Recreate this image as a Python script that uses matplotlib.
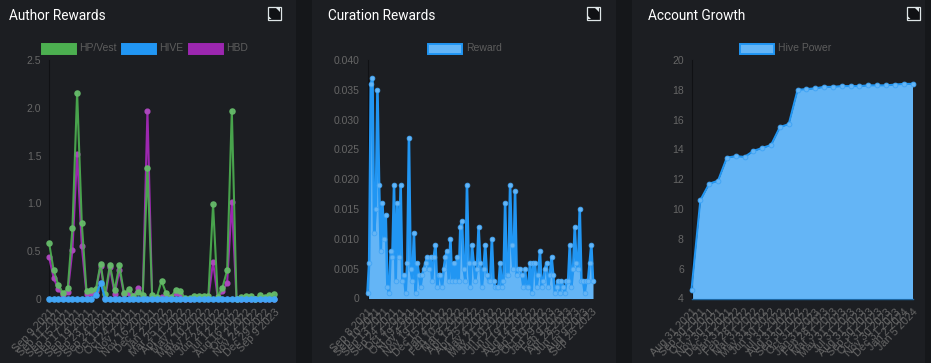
import matplotlib
matplotlib.use("Agg")
import matplotlib.pyplot as plt
from matplotlib.patches import Rectangle, Polygon

W, H = 931, 363
plt.rcParams['font.family'] = ['Liberation Sans', 'DejaVu Sans']

# ---------- data ----------
author_titles = ["Author Rewards", "Curation Rewards", "Account Growth"]

hp_vest = [0.59, 0.30, 0.145, 0.06, 0.11, 0.74, 2.16, 0.79, 0.08, 0.095, 0.10, 0.37, 0.05,
           0.36, 0.09, 0.355, 0.06, 0.10, 0.03, 0.07, 0.04, 1.37, 0.04, 0.02, 0.19, 0.06,
           0.02, 0.09, 0.08, 0.01, 0.01, 0.03, 0.035, 0.035, 0.03, 0.99, 0.02, 0.12,
           0.30, 1.97, 0.0, 0.02, 0.03, 0.035, 0.0, 0.04, 0.025, 0.04, 0.05]
hive = [0, 0, 0, 0, 0, 0, 0, 0, 0, 0, 0.04, 0.17, 0, 0, 0, 0, 0, 0, 0, 0, 0, 0, 0, 0, 0,
        0, 0, 0, 0, 0, 0, 0, 0, 0, 0, 0, 0, 0, 0, 0, 0, 0, 0, 0, 0, 0, 0, 0, 0]
hbd = [0.44, 0.22, 0.10, 0.04, 0.07, 0.51, 1.52, 0.55, 0.05, 0.06, 0.08, 0.35, 0.01, 0.33,
       0.05, 0.30, 0.05, 0.06, 0.03, 0.11, 0.02, 1.97, 0.02, 0.01, 0.02, 0.02, 0.01, 0.06,
       0.05, 0.0, 0.0, 0.01, 0.01, 0.01, 0.01, 0.39, 0.01, 0.08, 0.17, 1.01, 0.0,
       0.0, 0.0, 0.0, 0.0, 0.0, 0.0, 0.0, 0.0]
author_labels = ["Sep 9 2021", "Sep 11 2021", "Sep 15 2021", "Sep 17 2021", "Sep 19 2021",
                 "Sep 23 2021", "Sep 24 2021", "Oct 11 2021", "Oct 24 2021", "Nov 2 2021",
                 "Nov 16 2021", "Dec 2 2021", "Jan 2 2022", "Mar 25 2022", "Apr 11 2022",
                 "May 2 2022", "May 10 2022", "May 27 2022", "Jun 24 2022", "Jul 12 2022",
                 "Aug 16 2022", "Oct 2 2022", "Nov 24 2022", "Dec 29 2022", "Sep 9 2023"]

reward = [0.001, 0.006, 0.036, 0.037, 0.011, 0.015, 0.035, 0.019, 0.008, 0.016, 0.010, 0.014,
          0.002, 0.001, 0.008, 0.007, 0.019, 0.003, 0.016, 0.007, 0.019, 0.003, 0.004, 0.001,
          0.006, 0.027, 0.005, 0.003, 0.011, 0.001, 0.006, 0.004, 0.002, 0.004, 0.005, 0.006,
          0.007, 0.005, 0.007, 0.003, 0.007, 0.009, 0.002, 0.004, 0.004, 0.002, 0.005, 0.007,
          0.008, 0.003, 0.010, 0.003, 0.006, 0.003, 0.007, 0.003, 0.012, 0.013, 0.005, 0.003,
          0.019, 0.006, 0.002, 0.009, 0.006, 0.003, 0.005, 0.012, 0.006, 0.002, 0.005, 0.009,
          0.004, 0.003, 0.003, 0.010, 0.003, 0.002, 0.002, 0.002, 0.006, 0.002, 0.003, 0.016,
          0.004, 0.004, 0.019, 0.009, 0.005, 0.018, 0.004, 0.005, 0.005, 0.004, 0.002, 0.005,
          0.002, 0.002, 0.006, 0.001, 0.006, 0.006, 0.002, 0.004, 0.008, 0.002, 0.003, 0.005,
          0.006, 0.002, 0.004, 0.007, 0.004, 0.001, 0.002, 0.003, 0.001, 0.003, 0.002, 0.001,
          0.003, 0.003, 0.009, 0.002, 0.005, 0.012, 0.006, 0.005, 0.015, 0.003, 0.003, 0.001,
          0.003, 0.003, 0.006, 0.009, 0.003]
curation_labels = ["Sep 8 2021", "Sep 10 2021", "Sep 13 2021", "Sep 24 2021", "Oct 4 2021",
                   "Oct 19 2021", "Nov 4 2021", "Nov 19 2021", "Dec 15 2021", "Jan 4 2022",
                   "Feb 10 2022", "Mar 8 2022", "Apr 13 2022", "Apr 25 2022", "May 4 2022",
                   "May 21 2022", "Jun 10 2022", "Jun 27 2022", "Jul 19 2022", "Aug 14 2022",
                   "Sep 18 2022", "Oct 10 2022", "Jan 29 2023", "Feb 9 2023", "Apr 28 2023",
                   "Jun 25 2023", "Aug 9 2023", "Sep 25 2023"]

hive_power = [4.6, 10.6, 11.7, 11.9, 13.45, 13.55, 13.5, 13.9, 14.1, 14.3, 15.5, 15.7, 18.0,
              18.05, 18.1, 18.2, 18.2, 18.25, 18.25, 18.25, 18.3, 18.3, 18.3, 18.35, 18.4, 18.4]
growth_labels = ["Aug 31 2021", "Sep 30 2021", "Oct 31 2021", "Nov 30 2021", "Dec 31 2021",
                 "Jan 31 2022", "Feb 28 2022", "Mar 31 2022", "May 31 2022", "Jun 30 2022",
                 "Jul 31 2022", "Aug 31 2022", "Sep 30 2022", "Oct 31 2022", "Jan 31 2023",
                 "Feb 28 2023", "Mar 31 2023", "May 31 2023", "Jul 31 2023", "Aug 31 2023",
                 "Sep 30 2023", "Oct 31 2023", "Nov 30 2023", "Dec 31 2023", "Jan 2 2024",
                 "Jan 5 2024"]

author_yticks = [0, 0.5, 1.0, 1.5, 2.0, 2.5]
author_ylabels = ["0", "0.5", "1.0", "1.5", "2.0", "2.5"]
curation_yticks = [0, 0.005, 0.010, 0.015, 0.020, 0.025, 0.030, 0.035, 0.040]
curation_ylabels = ["0", "0.005", "0.010", "0.015", "0.020", "0.025", "0.030", "0.035", "0.040"]
growth_yticks = [4, 6, 8, 10, 12, 14, 16, 18, 20]

# ---------- colours ----------
PAGE = "#15171a"
CARD = "#1c1e22"
GREEN = "#4caf50"
BLUE = "#2196f3"
PURPLE = "#9c27b0"
LIGHT = "#64b5f6"
TICK = "#666666"
TICK_PX = 10.4
PT = 0.72

fig = plt.figure(figsize=(W / 100, H / 100), dpi=100, facecolor=PAGE)

# page overlay in pixel coordinates
bg = fig.add_axes([0, 0, 1, 1], zorder=0)
bg.set_xlim(0, W)
bg.set_ylim(H, 0)
bg.axis("off")
for x0, x1 in [(0, 296), (312, 616), (632, 925)]:
    bg.add_patch(Rectangle((x0, 0), x1 - x0, H, fc=CARD, ec="none"))


def icon(x, y):
    s = 13
    bg.add_patch(Rectangle((x, y), s, s, fc="#101114", ec="#dfe6e8", lw=0.9))
    bg.add_patch(Polygon([(x + s - 5, y + 1), (x + s - 1, y + 1), (x + s - 1, y + 5)], fc="#dfe6e8", ec="none"))
    bg.add_patch(Polygon([(x + 1, y + s - 4), (x + 4, y + s - 1), (x + 1, y + s - 1)], fc="#dfe6e8", ec="none"))


def legend_item(x0, label, face, edge):
    bg.add_patch(Rectangle((x0, 43.5), 34, 10.5, fc=face, ec=edge, lw=1.4))
    bg.text(x0 + 38, 48, label, color="#5d5d5d", fontsize=TICK_PX * PT, va="center", ha="left")


for tx, title in zip([9, 328, 648], author_titles):
    bg.text(tx, 16.5, title, color="white", fontsize=13.6 * PT, family=["Roboto", "DejaVu Sans"],
            va="center", ha="left")
for ix in [267.5, 587, 906.5]:
    icon(ix, 7)

legend_item(41.5, "HP/Vest", GREEN, GREEN)
legend_item(121.5, "HIVE", BLUE, BLUE)
legend_item(188.5, "HBD", PURPLE, PURPLE)
legend_item(428, "Reward", LIGHT, BLUE)
legend_item(740, "Hive Power", LIGHT, BLUE)


def make_axes(left, right, top, bottom, ylim, yticks, ylabels, n, xticks, xlabels):
    ax = fig.add_axes([left / W, 1 - bottom / H, (right - left) / W, (bottom - top) / H], zorder=2)
    ax.patch.set_alpha(0)
    ax.set_xlim(0, n - 1)
    ax.set_ylim(*ylim)
    for s in ["top", "right", "bottom"]:
        ax.spines[s].set_visible(False)
    ax.spines["left"].set_color("#101114")
    ax.spines["left"].set_linewidth(0.8)
    ax.set_yticks(yticks)
    ax.set_yticklabels(ylabels, color=TICK, fontsize=TICK_PX * PT)
    ax.set_xticks(xticks)
    ax.set_xticklabels(xlabels, color=TICK, fontsize=10.9 * PT, rotation=46, ha="right",
                       rotation_mode="anchor")
    ax.tick_params(axis="y", length=0, pad=5.5)
    ax.tick_params(axis="x", length=0, pad=6)
    return ax


# ---------- author rewards ----------
n1 = len(hp_vest)
x1 = list(range(n1))
ax1 = make_axes(49, 274, 60, 299, (0, 2.5), author_yticks, author_ylabels, n1,
                x1[::2], author_labels)
ax1.plot(x1, hbd, color=PURPLE, lw=1.5, marker="o", ms=3.4, mfc="#ab47bc", mec="#ab47bc", clip_on=False, zorder=3)
ax1.plot(x1, hp_vest, color=GREEN, lw=1.5, alpha=0.92, marker="o", ms=3.7, mfc="#66bb6a", mec="#66bb6a",
         clip_on=False, zorder=4)
ax1.plot(x1, hive, color=BLUE, lw=1.5, marker="o", ms=3.7, mfc="#42a5f5", mec="#42a5f5", clip_on=False, zorder=5)

# ---------- curation rewards ----------
n2 = len(reward)
x2 = list(range(n2))
ax2 = make_axes(367.5, 593, 60, 298.5, (0, 0.04), curation_yticks, curation_ylabels, n2,
                x2[::5], curation_labels)
ax2.fill_between(x2, reward, 0, color=LIGHT, lw=0, zorder=2)
ax2.plot(x2, reward, color=BLUE, lw=1.85, marker="o", ms=3.4, mfc="#64b5f6", mec="#42a5f5", mew=0.6,
         clip_on=False, zorder=3)

# ---------- account growth ----------
n3 = len(hive_power)
x3 = list(range(n3))
ax3 = make_axes(691.5, 912.5, 60, 298.5, (4, 20), growth_yticks, [str(v) for v in growth_yticks], n3,
                x3, growth_labels)
ax3.fill_between(x3, hive_power, 4, color=LIGHT, lw=0, zorder=2)
ax3.plot(x3, hive_power, color=BLUE, lw=1.45, marker="o", ms=3.4, mfc="#64b5f6", mec="#42a5f5", mew=0.7,
         clip_on=False, zorder=3)
ax3.plot([x3[0], x3[-1]], [4, 4], color=BLUE, lw=1.0, clip_on=False, zorder=3, alpha=0.6)

fig.savefig("out.png", dpi=100, facecolor=PAGE)
